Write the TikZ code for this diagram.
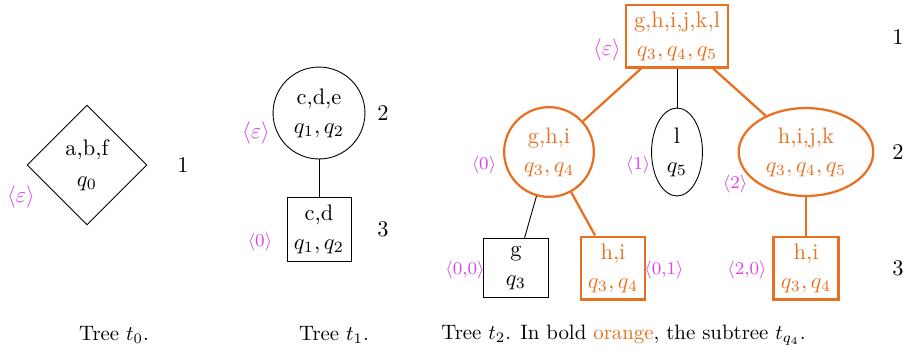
\documentclass[tikz,border=0pt]{standalone}
\usetikzlibrary{shapes.geometric}
\definecolor{sel}{RGB}{232,112,32}
\definecolor{lab}{RGB}{215,70,235}
\begin{document}
\begin{tikzpicture}[x=0.446pt,y=-0.446pt,
  tn/.style={draw,inner sep=0pt,align=center,font=\normalsize},
  hl/.style={draw=sel,text=sel,line width=1pt},
  hle/.style={draw=sel,line width=1pt},
  bx/.style={tn,rectangle},
  lbl/.style={text=lab,inner sep=0pt,font=\footnotesize},
  lble/.style={text=lab,inner sep=0pt},
  lvl/.style={inner sep=0pt},
  captext/.style={inner sep=0pt,scale=0.93}]
\useasboundingbox (0,0) rectangle (908,352);
% Tree t0
\node[tn,diamond,minimum width=53.5pt,minimum height=53.5pt,aspect=1] (a) at (87,165) {a,b,f\\[2pt]$q_0$};
\node[lble] (la) at (21,197) {$\langle\varepsilon\rangle$};
\node[lvl] (n0) at (183,165) {1};
\node[captext] (c0) at (114,335) {Tree $t_0$.};
% Tree t1
\node[tn,circle,minimum size=41pt] (b) at (319,113) {c,d,e\\[1pt]$q_1,q_2$};
\node[bx,minimum width=28.5pt,minimum height=28.5pt] (b0) at (319,229) {c,d\\[1pt]$q_1,q_2$};
\draw (b) -- (b0);
\node[lble] (lb) at (256,133) {$\langle\varepsilon\rangle$};
\node[lbl] (lb0) at (260,242) {$\langle0\rangle$};
\node[lvl] (n1a) at (383,113) {2};
\node[lvl] (n1b) at (383,229) {3};
\node[captext] (c1) at (334,335) {Tree $t_1$.};
% Tree t2
\node[bx,hl,minimum width=45.5pt,minimum height=28pt] (r) at (677,36) {g,h,i,j,k,l\\[1pt]$q_3,q_4,q_5$};
\node[tn,circle,hl,minimum size=40pt] (r0) at (549,152) {g,h,i\\[1pt]$q_3,q_4$};
\node[tn,ellipse,minimum width=22.7pt,minimum height=39.2pt] (r1) at (677,152) {l\\[1pt]$q_5$};
\node[tn,ellipse,hl,minimum width=60pt,minimum height=39.2pt] (r2) at (806,152) {h,i,j,k\\[1pt]$q_3,q_4,q_5$};
\node[bx,minimum width=29pt,minimum height=26pt] (r00) at (516,268) {g\\[1pt]$q_3$};
\node[bx,hl,minimum width=28.5pt,minimum height=28pt] (r01) at (613,268) {h,i\\[1pt]$q_3,q_4$};
\node[bx,hl,minimum width=29pt,minimum height=28pt] (r20) at (806,268) {h,i\\[1pt]$q_3,q_4$};
\draw[hle] (r) -- (r0);
\draw (r) -- (r1);
\draw[hle] (r) -- (r2);
\draw (r0) -- (r00);
\draw[hle] (r0) -- (r01);
\draw[hle] (r2) -- (r20);
\node[lble] (lr) at (607,50) {$\langle\varepsilon\rangle$};
\node[lbl] (lr0) at (484,165) {$\langle0\rangle$};
\node[lbl] (lr1) at (638,165) {$\langle1\rangle$};
\node[lbl] (lr2) at (735,184) {$\langle2\rangle$};
\node[lbl] (lr00) at (465,270) {$\langle0{,}0\rangle$};
\node[lbl] (lr01) at (664,270) {$\langle0{,}1\rangle$};
\node[lbl] (lr20) at (747,270) {$\langle2{,}0\rangle$};
\node[lvl] (n2a) at (898,37) {1};
\node[lvl] (n2b) at (898,152) {2};
\node[lvl] (n2c) at (898,268) {3};
\node[captext,anchor=west] (c2) at (441,335) {Tree $t_2$. In bold \textcolor{sel}{orange}, the subtree $t_{q_4}$.};
\end{tikzpicture}
\end{document}
